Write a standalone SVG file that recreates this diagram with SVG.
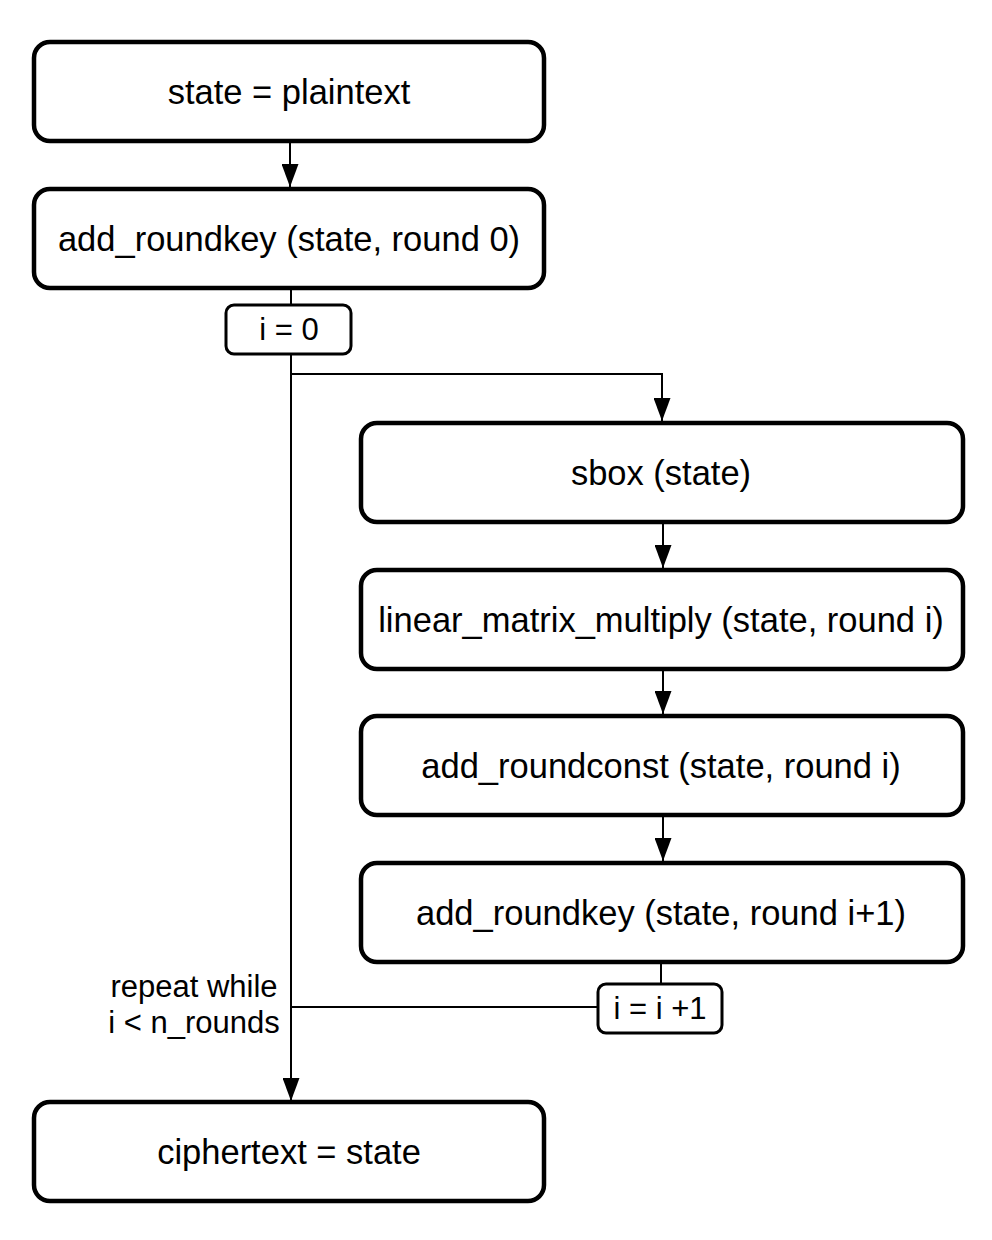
<svg xmlns="http://www.w3.org/2000/svg" width="992" height="1240" viewBox="0 0 992 1240">
<style>
.box{fill:#fff;stroke:#000;stroke-width:4.5}
.sm{fill:#fff;stroke:#000;stroke-width:3}
.t{font-family:"Liberation Sans",Arial,sans-serif;font-size:34.5px;fill:#000;text-anchor:middle}
.ts{font-family:"Liberation Sans",Arial,sans-serif;font-size:31px;fill:#000;text-anchor:middle}
.ln{fill:none;stroke:#000;stroke-width:2}
</style>
<defs>
<marker id="ad" markerWidth="23" markerHeight="17" refX="23" refY="8.5" orient="auto" markerUnits="userSpaceOnUse" viewBox="0 0 23 17">
<path d="M0,0 L23,8.5 L0,17 Z" fill="#000"/>
</marker>
</defs>
<g id="connectors">
<path class="ln" d="M290,141 V187" marker-end="url(#ad)"/>
<path class="ln" d="M291,288 V305"/>
<path class="ln" d="M291,354 V1101" marker-end="url(#ad)"/>
<path class="ln" d="M291,374 H662 V421" marker-end="url(#ad)"/>
<path class="ln" d="M663,522 V568" marker-end="url(#ad)"/>
<path class="ln" d="M663,669 V714" marker-end="url(#ad)"/>
<path class="ln" d="M663,815 V861" marker-end="url(#ad)"/>
<path class="ln" d="M661,962 V984"/>
<path class="ln" d="M598,1007 H291"/>
</g>
<g id="n1"><rect class="box" x="34" y="42" width="510" height="99" rx="16"/><text class="t" x="289" y="104">state = plaintext</text></g>
<g id="n2"><rect class="box" x="34" y="189" width="510" height="99" rx="16"/><text class="t" x="289" y="251">add_roundkey (state, round 0)</text></g>
<g id="n3"><rect class="sm" x="226" y="305" width="125" height="49" rx="8"/><text class="ts" x="289" y="340">i = 0</text></g>
<g id="n4"><rect class="box" x="361" y="423" width="602" height="99" rx="16"/><text class="t" x="661" y="485">sbox (state)</text></g>
<g id="n5"><rect class="box" x="361" y="570" width="602" height="99" rx="16"/><text class="t" x="661" y="632">linear_matrix_multiply (state, round i)</text></g>
<g id="n6"><rect class="box" x="361" y="716" width="602" height="99" rx="16"/><text class="t" x="661" y="778">add_roundconst (state, round i)</text></g>
<g id="n7"><rect class="box" x="361" y="863" width="602" height="99" rx="16"/><text class="t" x="661" y="925">add_roundkey (state, round i+1)</text></g>
<g id="n8"><rect class="sm" x="598" y="984" width="124" height="49" rx="8"/><text class="ts" x="660" y="1019">i = i +1</text></g>
<g id="label"><text class="ts" x="194" y="997">repeat while</text><text class="ts" x="194" y="1033">i &lt; n_rounds</text></g>
<g id="n9"><rect class="box" x="34" y="1102" width="510" height="99" rx="16"/><text class="t" x="289" y="1164">ciphertext = state</text></g>
</svg>
